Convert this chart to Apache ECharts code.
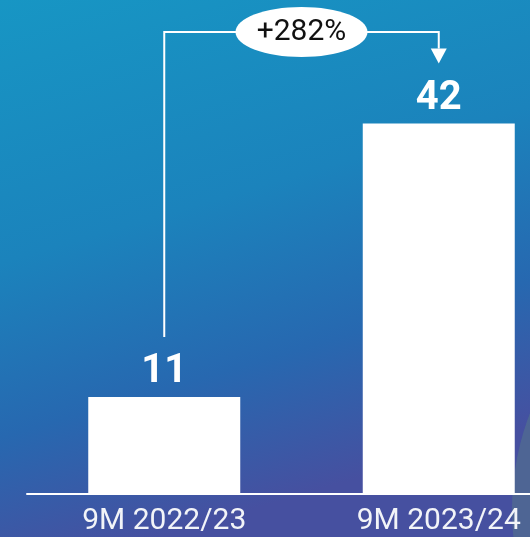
<!DOCTYPE html>
<html>
<head>
<meta charset="utf-8">
<script src="https://cdn.jsdelivr.net/npm/echarts@6/dist/echarts.min.js"></script>
<style>
  html, body { margin: 0; padding: 0; width: 530px; height: 537px; overflow: hidden; }
  #chart { width: 530px; height: 537px; }
</style>
</head>
<body>
<div id="chart"></div>
<script>
const categories = ['9M 2022/23', '9M 2023/24'];
const values = [11, 42];
const changeLabel = '+282%';

const chart = echarts.init(document.getElementById('chart'), null, { renderer: 'canvas' });

const option = {
  animation: false,
  backgroundColor: {
    type: 'linear', x: 0, y: 0, x2: 0.3, y2: 1,
    colorStops: [
      { offset: 0, color: '#1796c4' },
      { offset: 0.45, color: '#1b83bc' },
      { offset: 0.75, color: '#2768b0' },
      { offset: 1, color: '#4650a0' }
    ]
  },
  grid: { left: 27, right: -46, top: 53, bottom: 43, containLabel: false, outerBoundsMode: 'none' },
  xAxis: {
    type: 'category',
    data: categories,
    axisLine: { show: true, lineStyle: { color: '#ffffff', width: 2 } },
    axisTick: { show: false },
    axisLabel: { color: '#f2f4f8', fontSize: 30, fontFamily: 'Roboto', margin: 12 }
  },
  yAxis: {
    type: 'value', min: 0, max: 50, show: false,
    splitLine: { show: false }
  },
  series: [{
    type: 'bar',
    data: values,
    barWidth: 152,
    itemStyle: { color: '#ffffff' },
    label: {
      show: true, position: 'top', distance: 5,
      color: '#ffffff', fontSize: 40, fontWeight: 'bold', fontFamily: 'Roboto'
    }
  }]
};
chart.setOption(option);

const p1 = chart.convertToPixel({ seriesIndex: 0 }, [0, values[0]]);
const p2 = chart.convertToPixel({ seriesIndex: 0 }, [1, values[1]]);
const topY = 32;
const gap = 60;
const arrowLen = 15;
const midX = (p1[0] + p2[0]) / 2;

chart.setOption({
  graphic: [
    {
      type: 'circle', z: -5, silent: true,
      shape: { cx: 782, cy: 510, r: 270 },
      style: { fill: 'rgba(95,145,125,0.33)' }
    },
    {
      type: 'polyline', z: 10,
      shape: { points: [[p1[0], p1[1] - gap], [p1[0], topY], [p2[0], topY], [p2[0], p2[1] - gap - arrowLen]] },
      style: { stroke: '#ffffff', lineWidth: 2, fill: null }
    },
    {
      type: 'polygon', z: 10,
      shape: { points: [[p2[0] - 8, p2[1] - gap - arrowLen], [p2[0] + 8, p2[1] - gap - arrowLen], [p2[0], p2[1] - gap]] },
      style: { fill: '#ffffff' }
    },
    {
      type: 'ellipse', z: 11,
      shape: { cx: midX, cy: topY, rx: 66, ry: 25 },
      style: { fill: '#ffffff' }
    },
    {
      type: 'text', z: 12,
      x: midX, y: topY,
      style: {
        text: changeLabel, fill: '#111111', fontSize: 30, fontFamily: 'Roboto',
        align: 'center', verticalAlign: 'middle'
      }
    }
  ]
});
</script>
</body>
</html>
